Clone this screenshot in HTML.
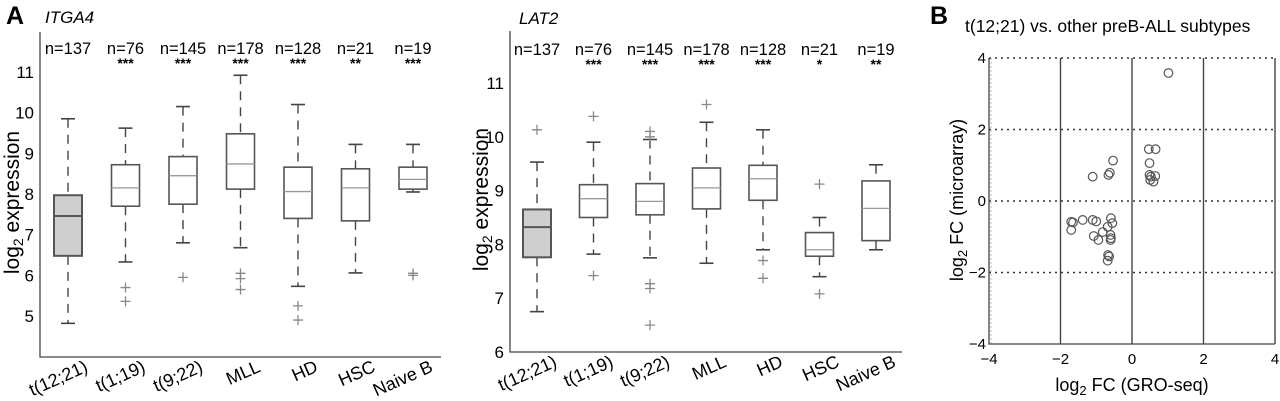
<!DOCTYPE html>
<html><head><meta charset="utf-8"><style>
body{margin:0;background:#fff}
svg{display:block;font-family:"Liberation Sans",Arial,sans-serif}
</style></head><body>
<svg id="fig" width="1280" height="401" viewBox="0 0 1280 401" xmlns="http://www.w3.org/2000/svg">
<g id="pA"></g>
<g id="pB"></g>
<g id="pC"></g>
<text x="6" y="24" font-size="25" font-weight="bold">A</text>
<text x="930" y="24" font-size="25" font-weight="bold">B</text>
<text x="45" y="23" font-size="17" font-style="italic">ITGA4</text>
<text x="519" y="24" font-size="17" font-style="italic">LAT2</text>
<text x="965" y="32" font-size="17.5">t(12;21) vs. other preB-ALL subtypes</text>
</svg>
<script>
const categories = ["t(12;21)","t(1;19)","t(9;22)","MLL","HD","HSC","Naive B"];
const nLabels = ["n=137","n=76","n=145","n=178","n=128","n=21","n=19"];
const itgaStars = ["","***","***","***","***","**","***"];
const lat2Stars = ["","***","***","***","***","*","**"];
// [lowWhisker, q1, median, q3, highWhisker]
const itgaBoxes = [[4.82,6.48,7.46,7.97,9.85],[6.33,7.7,8.15,8.72,9.62],[6.8,7.75,8.45,8.92,10.15],[6.68,8.12,8.74,9.48,10.92],[5.73,7.4,8.06,8.66,10.2],[6.06,7.34,8.15,8.62,9.22],[8.05,8.12,8.36,8.66,9.22]];
const itgaOutliers = [[],[5.7,5.36],[5.95],[6.05,5.92,5.65],[5.25,4.9],[],[6.05,6.0]];
const lat2Boxes = [[6.75,7.76,8.32,8.65,9.53],[7.82,8.5,8.85,9.11,9.9],[7.75,8.55,8.8,9.13,9.95],[7.65,8.66,9.05,9.42,10.27],[7.9,8.82,9.22,9.47,10.13],[7.4,7.78,7.9,8.22,8.5],[7.9,8.07,8.67,9.18,9.48]];
const lat2Outliers = [[10.13],[10.38,7.42],[10.1,10.0,7.27,7.18,6.5],[10.6],[7.7,7.37],[9.12,7.08],[]];
const itgaTicks = [5,6,7,8,9,10,11];
const lat2Ticks = [6,7,8,9,10,11];
const scatterX = [1.02,0.47,0.66,0.49,0.49,0.65,0.51,0.6,0.53,-0.53,-0.62,-0.66,-1.1,-1.7,-1.65,-1.7,-1.38,-1.1,-1.0,-0.59,-0.55,-0.68,-0.82,-1.07,-0.94,-0.6,-0.6,-0.59,-0.67,-0.64,-0.68];
const scatterY = [3.58,1.45,1.45,1.06,0.73,0.7,0.59,0.54,0.68,1.13,0.79,0.73,0.68,-0.58,-0.6,-0.81,-0.53,-0.53,-0.57,-0.48,-0.62,-0.72,-0.87,-0.98,-1.09,-0.95,-1.09,-1.04,-1.51,-1.55,-1.67];
const scatterTicks = [-4,-2,0,2,4];

const NS="http://www.w3.org/2000/svg";
function mk(parent,tag,attrs,text){const e=document.createElementNS(NS,tag);for(const k in attrs)e.setAttribute(k,attrs[k]);if(text!==undefined)e.textContent=text;parent.appendChild(e);return e;}

function boxPanel(g,cfg){
  const ys=v=>cfg.y0+(cfg.vTop-v)*cfg.ppu;
  const xs=i=>cfg.cx0+i*cfg.step;
  let a=mk(g,'path',{d:`M${cfg.left} ${cfg.top} V${cfg.bottom} H${cfg.right}`,fill:'none',stroke:'#444','stroke-width':1.3});
  
  cfg.ticks.forEach(t=>{
    let tl=mk(g,'text',{x:cfg.left-6,y:ys(t)+6,'font-size':17,'text-anchor':'end'},String(t));
    
  });
  let yt=mk(g,'text',{transform:`translate(${cfg.titleX},${(cfg.top+cfg.bottom)/2+8}) rotate(-90)`,'font-size':21,'text-anchor':'middle'});
  
  yt.innerHTML='log<tspan font-size="14" dy="4">2</tspan><tspan dy="-4"> expression</tspan>';
  cfg.boxes.forEach((b,i)=>{
    const cx=xs(i),w=14;
    const bg=mk(g,'g',{});
    
    
    const sw=i===0?2:1.6;
    mk(bg,'line',{x1:cx,x2:cx,y1:ys(b[4]),y2:ys(b[3]),stroke:'#444','stroke-width':1.4,'stroke-dasharray':'9,7'});
    mk(bg,'line',{x1:cx,x2:cx,y1:ys(b[1]),y2:ys(b[0]),stroke:'#444','stroke-width':1.4,'stroke-dasharray':'9,7'});
    mk(bg,'line',{x1:cx-7,x2:cx+7,y1:ys(b[4]),y2:ys(b[4]),stroke:'#444','stroke-width':1.6});
    mk(bg,'line',{x1:cx-7,x2:cx+7,y1:ys(b[0]),y2:ys(b[0]),stroke:'#444','stroke-width':1.6});
    mk(bg,'rect',{x:cx-w,y:ys(b[3]),width:2*w,height:ys(b[1])-ys(b[3]),fill:i===0?'#cfcfcf':'#fff',stroke:'#555','stroke-width':sw});
    mk(bg,'line',{x1:cx-w,x2:cx+w,y1:ys(b[2]),y2:ys(b[2]),stroke:i===0?'#555':'#999','stroke-width':i===0?2:1.3});
    cfg.outliers[i].forEach(o=>{
      const p=mk(bg,'path',{d:`M${cx-5} ${ys(o)}h10M${cx} ${ys(o)-5}v10`,stroke:'#888','stroke-width':1.3});
      
    });
    let n=mk(g,'text',{x:cx,y:cfg.nY,'font-size':16.5,'text-anchor':'middle'},nLabels[i]);
    
    let s=mk(g,'text',{x:cx,y:cfg.starY,'font-size':14,'font-weight':'bold','text-anchor':'middle'},cfg.stars[i]);
    
    let c=mk(g,'text',{transform:`translate(${cx+21},${cfg.bottom+14}) rotate(-24)`,'font-size':18,'text-anchor':'end'},categories[i]);
    
  });
}
boxPanel(document.getElementById('pA'),{left:40,right:441,top:32,bottom:357,y0:72,vTop:11,ppu:40.67,cx0:68,step:57.5,ticks:itgaTicks,boxes:itgaBoxes,outliers:itgaOutliers,stars:itgaStars,starY:68,nY:54,titleX:19});
boxPanel(document.getElementById('pB'),{left:510,right:902,top:31,bottom:352,y0:83,vTop:11,ppu:53.8,cx0:537,step:56.5,ticks:lat2Ticks,boxes:lat2Boxes,outliers:lat2Outliers,stars:lat2Stars,starY:69,nY:55,titleX:488});

(function(){
  const g=document.getElementById('pC');
  const xs=v=>1132+v*35.75, ys=v=>201-v*35.75;
  let l=mk(g,'line',{x1:xs(-4)+2,x2:xs(-4)+2,y1:ys(4),y2:ys(-4),stroke:'#bbb','stroke-width':1,'stroke-dasharray':'2,2'});
  
  let ax=mk(g,'path',{d:`M${xs(-4)} ${ys(4)}V${ys(-4)}H${xs(4)}`,fill:'none',stroke:'#444','stroke-width':1.3});
  
  scatterTicks.forEach(t=>{
    if(t>-4){const v=mk(g,'line',{x1:xs(t),x2:xs(t),y1:ys(4),y2:ys(-4),stroke:'#444','stroke-width':1.4});
      
      const h=mk(g,'line',{x1:xs(-4),x2:xs(4),y1:ys(t),y2:ys(t),stroke:'#333','stroke-width':1.6,'stroke-dasharray':'2,4'});
      }
    const tx=mk(g,'text',{x:xs(t),y:364,'font-size':15,'text-anchor':'middle'},String(t).replace('-','\u2212'));
    
    const ty=mk(g,'text',{x:986,y:ys(t)+5,'font-size':15,'text-anchor':'end'},String(t).replace('-','\u2212'));
    
  });
  scatterX.forEach((x,i)=>{
    const c=mk(g,'circle',{cx:xs(x),cy:ys(scatterY[i]),r:4.3,fill:'none',stroke:'#555','stroke-width':1.2});
    
  });
  const xt=mk(g,'text',{x:1132,y:391,'font-size':18,'text-anchor':'middle'});
  
  xt.innerHTML='log<tspan font-size="13" dy="4">2</tspan><tspan dy="-4"> FC (GRO-seq)</tspan>';
  const yt=mk(g,'text',{transform:'translate(963,200) rotate(-90)','font-size':18,'text-anchor':'middle'});
  
  yt.innerHTML='log<tspan font-size="13" dy="4">2</tspan><tspan dy="-4"> FC (microarray)</tspan>';
})();
</script>
</body></html>
